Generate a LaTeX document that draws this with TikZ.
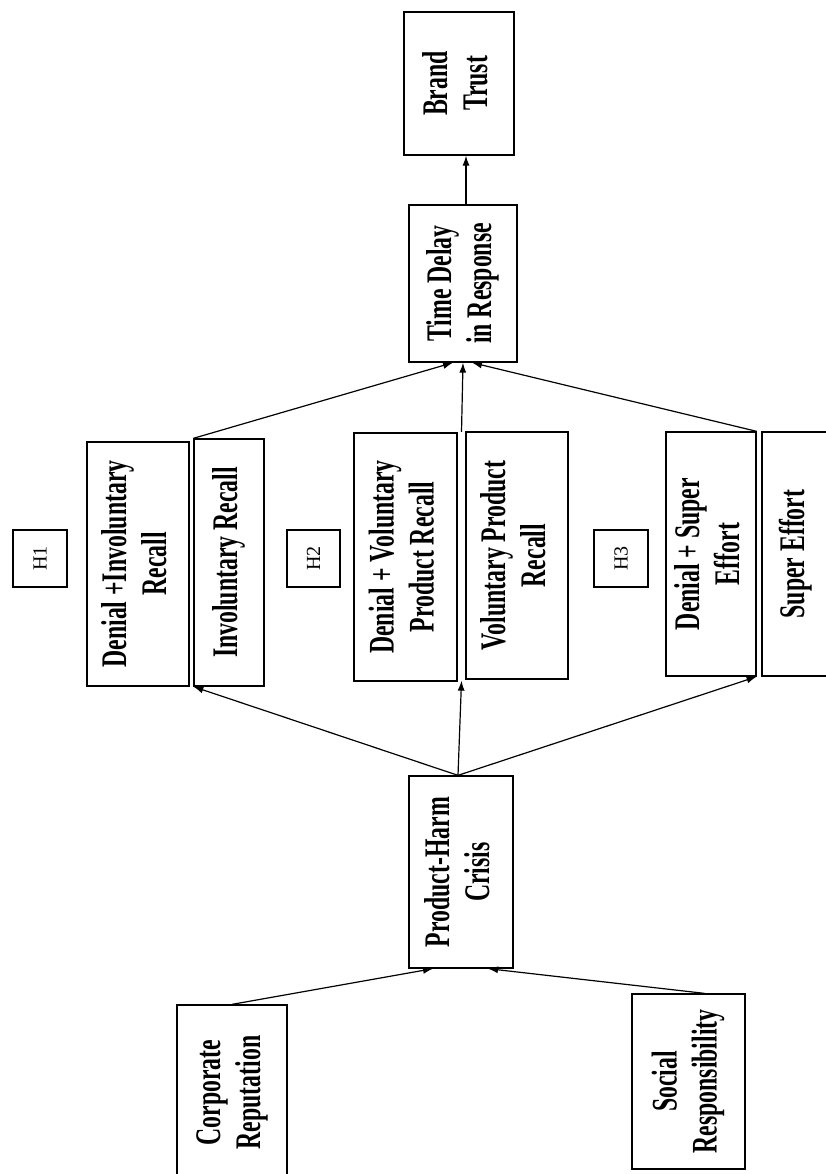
\documentclass[tikz,border=0pt]{standalone}
\usepackage{fontspec}
\setmainfont{Liberation Serif}
\newfontfamily\boxfont{Liberation Serif}[FakeStretch=0.66]
\usetikzlibrary{arrows.meta,calc}
\newcommand{\rottext}[1]{\rotatebox{90}{\begin{tabular}{@{}c@{}}#1\end{tabular}}}
\begin{document}
\begin{tikzpicture}[x=1pt,y=-1pt,
  box/.style={draw, line width=1.3pt, inner sep=0pt, font=\boxfont\bfseries\fontsize{36}{40}\selectfont},
  hbox/.style={draw, line width=1.2pt, inner sep=0pt, font=\fontsize{20}{22}\selectfont},
  conn/.style={line width=1.2pt, -{Latex[length=10pt,width=7pt]}}]
\useasboundingbox (0,0) rectangle (826,1174);
\clip (0,0) rectangle (826,1174);
% nodes
\node[box, minimum width=110pt, minimum height=143pt] (bt) at (459,83.5) {\rottext{Brand\\Trust}};
\node[box, minimum width=108pt, minimum height=157pt] (td) at (463,283.5) {\rottext{Time Delay\\in Response}};
\node[box, minimum width=102pt, minimum height=244pt] (dir) at (138,564) {\rottext{Denial +Involuntary\\Recall}};
\node[box, minimum width=70pt, minimum height=247pt] (ir) at (229,562.5) {\rottext{Involuntary Recall}};
\node[hbox, minimum width=54pt, minimum height=57pt] (h1) at (40,558.5) {\rotatebox{90}{H1}};
\node[hbox, minimum width=53pt, minimum height=57pt] (h2) at (313.5,558.5) {\rotatebox{90}{H2}};
\node[box, minimum width=103pt, minimum height=248pt] (dvr) at (405.5,557) {\rottext{Denial + Voluntary\\Product Recall}};
\node[box, minimum width=102pt, minimum height=247pt] (vr) at (517,555.5) {\rottext{Voluntary Product\\Recall}};
\node[hbox, minimum width=54pt, minimum height=57pt] (h3) at (621,558.5) {\rotatebox{90}{H3}};
\node[box, minimum width=90pt, minimum height=244pt] (dse) at (711,554) {\rottext{Denial + Super\\Effort}};
\node[box, minimum width=68pt, minimum height=244pt] (se) at (796,554) {\rottext{Super Effort}};
\node[box, minimum width=104pt, minimum height=192pt] (phc) at (461,872) {\rottext{Product-Harm\\Crisis}};
\node[box, minimum width=110pt, minimum height=175pt] (cr) at (232,1092.5) {\rottext{Corporate\\Reputation}};
\node[box, minimum width=113pt, minimum height=175pt] (sr) at (688.5,1081.5) {\rottext{Social\\Responsibility}};
% connectors
\draw[conn] ($(td.north)+(3,0)$) -- ($(bt.south)+(7,0)$);
\draw[conn] (ir.north west) -- ($(td.south)+(-10,0)$);
\draw[conn] ($(dvr.north east)!0.5!(vr.north west)$) -- (td.south);
\draw[conn] (dse.north east) -- ($(td.south)+(9,0)$);
\draw[conn] ($(phc.north)+(-3,0)$) -- (ir.south west);
\draw[conn] ($(phc.north)+(-3,0)$) -- ($(dvr.south east)!0.5!(vr.south west)$);
\draw[conn] ($(phc.north)+(-3,0)$) -- (dse.south east);
\draw[conn] (cr.north) -- ($(phc.south)+(-28,0)$);
\draw[conn] ($(sr.north)+(16,0)$) -- ($(phc.south)+(27,0)$);
\end{tikzpicture}
\end{document}
